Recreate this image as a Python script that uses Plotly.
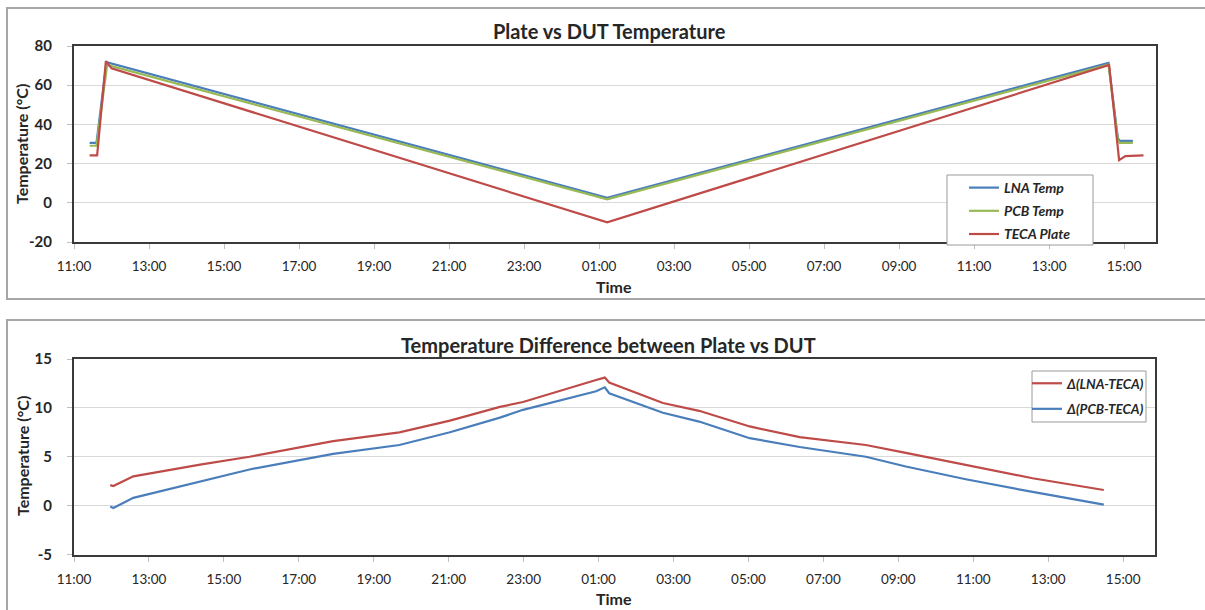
import plotly.graph_objects as go

# ---------------- data ----------------
lna_time = ["2013-04-10 11:25", "2013-04-10 11:36", "2013-04-10 11:52", "2013-04-11 01:13",
            "2013-04-11 14:35", "2013-04-11 14:50", "2013-04-11 14:53", "2013-04-11 15:14"]
lna_temp = [30.6, 30.6, 71.8, 2.6, 71.4, 33.0, 31.6, 31.6]

pcb_time = ["2013-04-10 11:25", "2013-04-10 11:36", "2013-04-10 11:53", "2013-04-11 01:13",
            "2013-04-11 14:35", "2013-04-11 14:50", "2013-04-11 14:53", "2013-04-11 15:14"]
pcb_temp = [29.1, 29.1, 70.3, 1.8, 70.5, 32.0, 30.6, 30.6]

teca_time = ["2013-04-10 11:25", "2013-04-10 11:37", "2013-04-10 11:51", "2013-04-10 12:00",
             "2013-04-11 01:13", "2013-04-11 14:36", "2013-04-11 14:52", "2013-04-11 15:02",
             "2013-04-11 15:31"]
teca_temp = [24.2, 24.2, 72.3, 68.6, -10.0, 70.3, 21.8, 23.8, 24.2]

diff_time = ["2013-04-10 11:58", "2013-04-10 12:03", "2013-04-10 12:35", "2013-04-10 14:22",
             "2013-04-10 15:41", "2013-04-10 17:55", "2013-04-10 19:41", "2013-04-10 21:02",
             "2013-04-10 22:22", "2013-04-10 22:59", "2013-04-11 00:56", "2013-04-11 01:10",
             "2013-04-11 01:17", "2013-04-11 02:43", "2013-04-11 03:41", "2013-04-11 05:02",
             "2013-04-11 06:22", "2013-04-11 08:08", "2013-04-11 09:12", "2013-04-11 10:48",
             "2013-04-11 12:35", "2013-04-11 14:29"]
d_lna_teca = [2.1, 2.0, 3.0, 4.2, 5.0, 6.6, 7.5, 8.7, 10.1, 10.6, 12.85, 13.1,
              12.6, 10.5, 9.7, 8.1, 7.0, 6.2, 5.4, 4.2, 2.8, 1.6]
d_pcb_teca = [-0.1, -0.25, 0.8, 2.5, 3.7, 5.3, 6.2, 7.5, 9.0, 9.8, 11.7, 12.1,
              11.5, 9.5, 8.6, 6.9, 6.0, 5.0, 4.0, 2.7, 1.4, 0.1]

top_yticks = [-20, 0, 20, 40, 60, 80]
top_yticklabels = ["-20", "0", "20", "40", "60", "80"]
bot_yticks = [-5, 0, 5, 10, 15]
bot_yticklabels = ["-5", "0", "5", "10", "15"]

x_range = ["2013-04-10 11:00", "2013-04-11 15:51"]
x_tick0 = "2013-04-10 11:00"
top_title = "Plate vs DUT Temperature"
bot_title = "Temperature Difference between Plate vs DUT"
y_title = "Temperature (°C)"
x_title = "Time"

# ---------------- style ----------------
W, H = 1205, 610
FONT = "Lato"
BLUE, GREEN, RED = "#4A7EBB", "#98B954", "#BE4B48"
TXT = "#262626"


def px(x):
    return x / W


def py(y):
    return 1 - y / H


fig = go.Figure()
fig.add_trace(go.Scatter(x=lna_time, y=lna_temp, mode="lines", name="LNA Temp", legendgroup="a",
                         line=dict(color=BLUE, width=2.2), xaxis="x", yaxis="y", legend="legend"))
fig.add_trace(go.Scatter(x=pcb_time, y=pcb_temp, mode="lines", name="PCB Temp", legendgroup="b",
                         line=dict(color=GREEN, width=2.2), xaxis="x", yaxis="y", legend="legend"))
fig.add_trace(go.Scatter(x=teca_time, y=teca_temp, mode="lines", name="TECA Plate", legendgroup="c",
                         line=dict(color=RED, width=2.2), xaxis="x", yaxis="y", legend="legend"))
fig.add_trace(go.Scatter(x=diff_time, y=d_lna_teca, mode="lines", name="Δ(LNA-TECA)", legendgroup="d",
                         line=dict(color=RED, width=2.2), xaxis="x2", yaxis="y2", legend="legend2"))
fig.add_trace(go.Scatter(x=diff_time, y=d_pcb_teca, mode="lines", name="Δ(PCB-TECA)", legendgroup="e",
                         line=dict(color=BLUE, width=2.2), xaxis="x2", yaxis="y2", legend="legend2"))

xcommon = dict(type="date", range=x_range, tick0=x_tick0, dtick=7200000, tickformat="%H:%M",
               showgrid=False, zeroline=False, showline=True, linecolor="#3a3a3a", linewidth=2,
               mirror=True, ticks="outside", ticklen=5, tickcolor="#bfbfbf", tickwidth=1,
               ticklabelstandoff=6,
               tickfont=dict(family=FONT, size=13.5, color=TXT))
ycommon = dict(showgrid=True, gridcolor="#d9d9d9", gridwidth=1, zeroline=False, showline=True,
               linecolor="#3a3a3a", linewidth=2, mirror=True, ticks="outside", ticklen=5,
               tickcolor="#bfbfbf", ticklabelstandoff=12, tickmode="array",
               tickfont=dict(family=FONT, size=15, color=TXT, weight="bold"))

lfont = dict(family=FONT, size=14, color=TXT, weight="bold", style="italic")
lfont2 = dict(family=FONT, size=13.5, color=TXT, weight="bold", style="italic")
fig.update_layout(
    width=W, height=H, margin=dict(l=0, r=0, t=0, b=0, autoexpand=False),
    paper_bgcolor="white", plot_bgcolor="white", autosize=False,
    xaxis=dict(domain=[px(74), px(1156)], anchor="y", **xcommon),
    yaxis=dict(domain=[py(242), py(46)], anchor="x", range=[-20, 80],
               tickvals=top_yticks, ticktext=top_yticklabels, **ycommon),
    xaxis2=dict(domain=[px(74), px(1155)], anchor="y2", **xcommon),
    yaxis2=dict(domain=[py(554.5), py(359)], anchor="x2", range=[-5, 15],
                tickvals=bot_yticks, ticktext=bot_yticklabels, **ycommon),
    legend=dict(x=px(964), y=py(172), xanchor="left", yanchor="top", bgcolor="rgba(0,0,0,0)",
                borderwidth=0, tracegroupgap=2, font=lfont),
    legend2=dict(x=px(1027), y=py(368), xanchor="left", yanchor="top", bgcolor="rgba(0,0,0,0)",
                 borderwidth=0, tracegroupgap=5, font=lfont2),
    showlegend=True,
)

# panel borders
fig.add_shape(type="rect", xref="paper", yref="paper", x0=px(7), x1=px(1215), y0=py(299), y1=py(8),
              line=dict(color="#a6a6a6", width=2), layer="below")
fig.add_shape(type="rect", xref="paper", yref="paper", x0=px(7), x1=px(1215), y0=py(620), y1=py(320),
              line=dict(color="#a6a6a6", width=2), layer="below")
# legend boxes
fig.add_shape(type="rect", xref="paper", yref="paper", x0=px(947), x1=px(1093), y0=py(245), y1=py(175),
              line=dict(color="#9a9a9a", width=1), fillcolor="white", layer="above")
fig.add_shape(type="rect", xref="paper", yref="paper", x0=px(1032), x1=px(1146), y0=py(422), y1=py(371),
              line=dict(color="#9a9a9a", width=1), fillcolor="white", layer="above")

ann = []
tfont = dict(family=FONT, size=20, color=TXT, weight="bold")
afont = dict(family=FONT, size=16, color=TXT, weight="bold")
yfont = dict(family=FONT, size=16, color=TXT, weight="bold")
ann.append(dict(text=top_title, x=px(609), y=py(31), font=tfont))
ann.append(dict(text=bot_title, x=px(608), y=py(345), font=tfont))
ann.append(dict(text=x_title, x=px(614), y=py(287), font=afont))
ann.append(dict(text=x_title, x=px(614), y=py(598), font=afont))
ann.append(dict(text=y_title, x=px(22), y=py(144), font=yfont, textangle=-90))
ann.append(dict(text=y_title, x=px(22), y=py(456), font=yfont, textangle=-90))
for a in ann:
    a.update(xref="paper", yref="paper", showarrow=False, xanchor="center", yanchor="middle")
fig.update_layout(annotations=ann)

fig.write_html("out.html")
